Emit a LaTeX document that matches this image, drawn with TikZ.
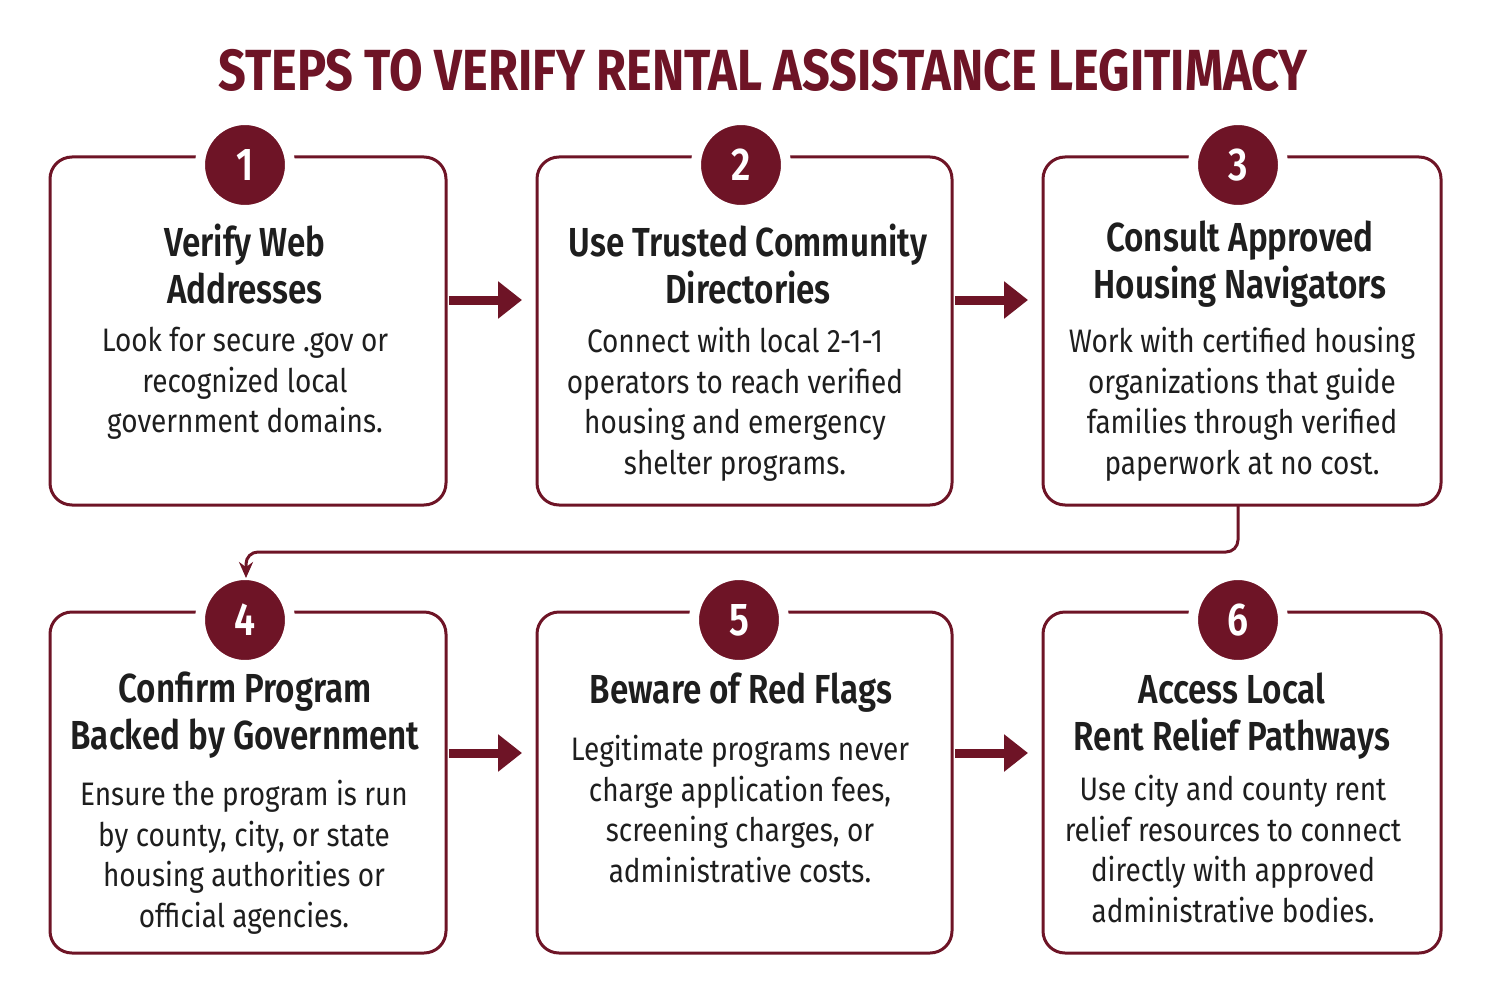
\documentclass[tikz,border=0pt]{standalone}
\usepackage{fontspec}
\setmainfont{Fira Sans}[FakeStretch=0.86]
\newfontfamily\titlef{Fira Sans}[FakeStretch=0.82,UprightFont=* SemiBold]
\newfontfamily\headf{Fira Sans}[FakeStretch=0.84,UprightFont=* Bold]
\usetikzlibrary{arrows.meta}
\definecolor{maroon}{HTML}{6E1426}
\definecolor{txt}{HTML}{1E1E1E}
\tikzset{
 box/.style={draw=maroon,line width=3pt,rounded corners=22pt,fill=white},
 num/.style={circle,fill=maroon,draw=white,line width=10pt,minimum size=90pt,inner sep=0pt,text=white,font=\titlef\fontsize{46}{46}\selectfont},
 ttl/.style={align=center,text=txt,font=\titlef\fontsize{40.5}{47}\selectfont},
 body/.style={align=center,text=txt,font=\fontsize{32.5}{40.5}\selectfont},
 bigarrow/.style={draw=maroon,line width=9pt,-{Triangle[length=24pt,width=36pt]}},
 link/.style={draw=maroon,line width=3pt,rounded corners=12pt,-{Stealth[length=16pt,width=14pt]}}
}
\begin{document}
\begin{tikzpicture}[x=1pt,y=-1pt]
\useasboundingbox[fill=white] (0,0) rectangle (1490,1003);
\node[text=maroon,font=\headf\fontsize{58}{58}\selectfont] (T) at (763,70) {STEPS TO VERIFY RENTAL ASSISTANCE LEGITIMACY};
\draw[box] (50,157) rectangle (446,505) coordinate (b1);
\draw[box] (537,157) rectangle (952,505) coordinate (b2);
\draw[box] (1043,157) rectangle (1441,505) coordinate (b3);
\draw[box] (50,612) rectangle (446,953) coordinate (b4);
\draw[box] (537,612) rectangle (952,953) coordinate (b5);
\draw[box] (1043,612) rectangle (1441,953) coordinate (b6);
\node[num] (n1) at (245,165) {1};
\node[num] (n2) at (741,165) {2};
\node[num] (n3) at (1238,165) {3};
\node[num] (n4) at (245,620) {4};
\node[num] (n5) at (739,620) {5};
\node[num] (n6) at (1238,620) {6};
\node[ttl] (t1) at (245,264) {Verify Web\\Addresses};
\node[ttl] (t2) at (748,264) {Use Trusted Community\\Directories};
\node[ttl] (t3) at (1240,264) {Consult Approved\\Housing Navigators};
\node[ttl] (t4) at (245,715) {Confirm Program\\Backed by Government};
\node[ttl] (t5) at (741,693) {Beware of Red Flags};
\node[ttl] (t6) at (1232,716) {Access Local\\Rent Relief Pathways};
\node[body,anchor=north] (d1) at (245,324) {Look for secure .gov or\\recognized local\\government domains.};
\node[body,anchor=north] (d2) at (735,324) {Connect with local 2-1-1\\operators to reach verified\\housing and emergency\\shelter programs.};
\node[body,anchor=north] (d3) at (1242,324) {Work with certified housing\\organizations that guide\\families through verified\\paperwork at no cost.};
\node[body,anchor=north] (d4) at (244,777) {Ensure the program is run\\by county, city, or state\\housing authorities or\\official agencies.};
\node[body,anchor=north] (d5) at (740,732) {Legitimate programs never\\charge application fees,\\screening charges, or\\administrative costs.};
\node[body,anchor=north] (d6) at (1233,772) {Use city and county rent\\relief resources to connect\\directly with approved\\administrative bodies.};
\coordinate (a1s) at (449,300); \coordinate (a1e) at (522,300);
\coordinate (a2s) at (955,300); \coordinate (a2e) at (1028,300);
\coordinate (a4s) at (449,753); \coordinate (a4e) at (522,753);
\coordinate (a5s) at (955,753); \coordinate (a5e) at (1028,753);
\draw[bigarrow] (a1s) -- (a1e);
\draw[bigarrow] (a2s) -- (a2e);
\draw[bigarrow] (a4s) -- (a4e);
\draw[bigarrow] (a5s) -- (a5e);
\coordinate (c1) at (1238,506); \coordinate (c2) at (246,578);
\draw[link] (c1) -- (1238,552) -- (246,552) -- (c2);
\end{tikzpicture}
\end{document}
